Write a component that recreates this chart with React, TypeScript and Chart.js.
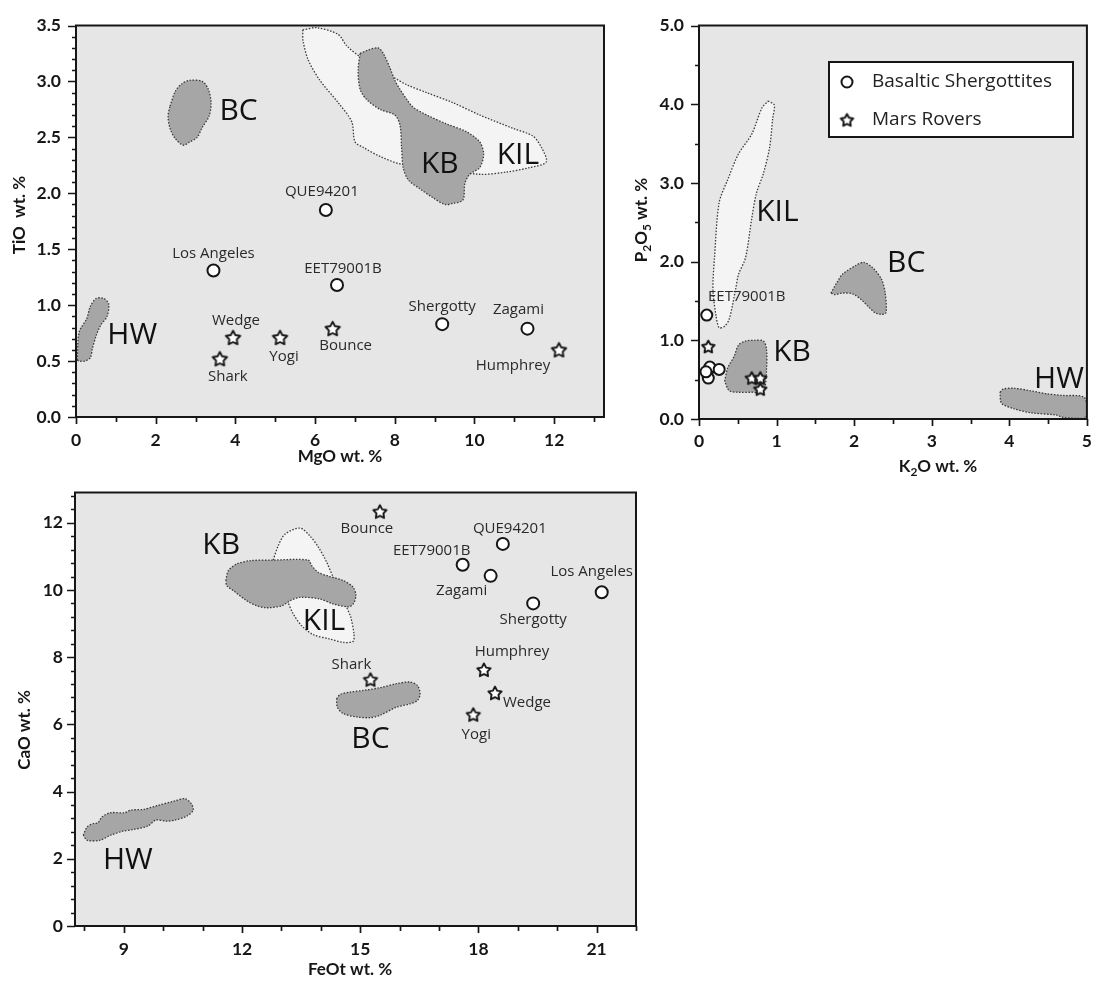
import React, { useEffect, useRef } from "react";
import { Chart, registerables } from "chart.js";

Chart.register(...registerables);

type Pt = [number, number];

/* ================= Panel A : TiO2 vs MgO ================= */
const A_SHERG_NAMES = ["Los Angeles", "QUE94201", "EET79001B", "Shergotty", "Zagami"];
const A_SHERG_MGO = [3.45, 6.27, 6.55, 9.19, 11.33];
const A_SHERG_TIO2 = [1.31, 1.85, 1.18, 0.83, 0.79];
const A_ROVER_NAMES = ["Wedge", "Shark", "Yogi", "Bounce", "Humphrey"];
const A_ROVER_MGO = [3.94, 3.61, 5.12, 6.44, 12.12];
const A_ROVER_TIO2 = [0.71, 0.52, 0.71, 0.79, 0.6];
const A_X_TICKS = [0, 2, 4, 6, 8, 10, 12];
const A_Y_TICKS = [0, 0.5, 1, 1.5, 2, 2.5, 3, 3.5];
const A_KIL: Pt[] = [[5.69,3.46],[6.04,3.48],[6.58,3.42],[6.79,3.32],[7.13,3.22],[8.0,3.03],[8.3,2.97],[8.8,2.9],[9.46,2.81],[10.13,2.7],[10.97,2.58],[11.47,2.51],[11.68,2.41],[11.8,2.28],[11.39,2.23],[10.8,2.19],[10.13,2.17],[8.17,2.26],[7.63,2.33],[7.21,2.41],[7.0,2.46],[6.92,2.64],[6.58,2.81],[6.12,3.01],[5.83,3.19],[5.7,3.36]];
const A_KB: Pt[] = [[7.13,3.25],[7.33,3.28],[7.58,3.3],[7.71,3.25],[7.88,3.12],[8.0,3.01],[8.13,2.93],[8.3,2.84],[8.46,2.77],[8.8,2.7],[9.3,2.62],[9.8,2.55],[10.13,2.46],[10.23,2.35],[10.13,2.23],[9.88,2.17],[9.76,2.09],[9.71,1.94],[9.46,1.91],[9.26,1.9],[8.96,1.96],[8.63,2.04],[8.34,2.12],[8.21,2.23],[8.17,2.41],[8.13,2.61],[8.0,2.7],[7.63,2.75],[7.29,2.84],[7.13,2.93],[7.08,3.1]];
const A_BC: Pt[] = [[2.36,2.78],[2.49,2.91],[2.66,2.98],[2.86,3.01],[3.17,3.0],[3.32,2.93],[3.39,2.81],[3.34,2.69],[3.17,2.59],[3.04,2.5],[2.86,2.46],[2.69,2.43],[2.49,2.49],[2.36,2.58],[2.31,2.69]];
const A_HW: Pt[] = [[0.03,0.51],[0.08,0.76],[0.27,0.88],[0.36,0.99],[0.51,1.06],[0.7,1.06],[0.82,1.01],[0.78,0.9],[0.62,0.82],[0.51,0.73],[0.41,0.61],[0.36,0.53],[0.22,0.5],[0.08,0.5]];
const A_REGION_NAMES = ["BC", "KB", "KIL", "HW"];
const A_REGION_LABEL_X = [4.08, 9.13, 11.09, 1.41];
const A_REGION_LABEL_Y = [2.73, 2.26, 2.34, 0.725];

/* ================= Panel B : P2O5 vs K2O ================= */
const B_SHERG_NAMES = ["EET79001B", "", "", "", ""];
const B_SHERG_K2O = [0.1, 0.14, 0.26, 0.12, 0.09];
const B_SHERG_P2O5 = [1.32, 0.66, 0.63, 0.52, 0.6];
const B_ROVER_K2O = [0.12, 0.12, 0.68, 0.79, 0.79];
const B_ROVER_P2O5 = [0.92, 0.59, 0.52, 0.52, 0.38];
const B_X_TICKS = [0, 1, 2, 3, 4, 5];
const B_Y_TICKS = [0, 1, 2, 3, 4, 5];
const B_KIL: Pt[] = [[0.89,4.04],[0.97,3.99],[0.95,3.82],[0.91,3.45],[0.83,3.12],[0.74,2.87],[0.68,2.55],[0.6,2.05],[0.51,1.84],[0.47,1.64],[0.39,1.27],[0.33,1.18],[0.26,1.16],[0.22,1.31],[0.18,1.64],[0.2,2.05],[0.26,2.75],[0.37,3.04],[0.51,3.37],[0.68,3.62],[0.81,3.95]];
const B_BC: Pt[] = [[1.7,1.6],[1.77,1.72],[1.85,1.84],[2.02,1.95],[2.12,1.99],[2.23,1.93],[2.35,1.78],[2.4,1.6],[2.41,1.35],[2.35,1.33],[2.27,1.35],[2.18,1.43],[2.1,1.51],[1.98,1.59],[1.85,1.6],[1.75,1.58]];
const B_KB: Pt[] = [[0.33,0.48],[0.37,0.65],[0.45,0.79],[0.51,0.94],[0.6,0.99],[0.72,1.0],[0.83,0.99],[0.87,0.89],[0.87,0.61],[0.85,0.4],[0.81,0.34],[0.68,0.34],[0.51,0.34],[0.39,0.36]];
const B_HW: Pt[] = [[3.88,0.34],[3.92,0.38],[4.06,0.39],[4.27,0.36],[4.48,0.32],[4.69,0.3],[4.96,0.28],[5.0,0.15],[4.98,0.01],[4.69,0.02],[4.61,0.05],[4.27,0.08],[4.06,0.13],[3.9,0.2]];
const B_REGION_NAMES = ["KIL", "BC", "KB", "HW"];
const B_REGION_LABEL_X = [1.01, 2.67, 1.2, 4.64];
const B_REGION_LABEL_Y = [2.63, 1.98, 0.85, 0.5];
const LEGEND_LABELS = ["Basaltic Shergottites", "Mars Rovers"];

/* ================= Panel C : CaO vs FeOt ================= */
const C_SHERG_NAMES = ["QUE94201", "EET79001B", "Zagami", "Los Angeles", "Shergotty"];
const C_SHERG_FEO = [18.62, 17.6, 18.31, 21.13, 19.39];
const C_SHERG_CAO = [11.37, 10.75, 10.42, 9.93, 9.6];
const C_ROVER_NAMES = ["Bounce", "Humphrey", "Wedge", "Yogi", "Shark"];
const C_ROVER_FEO = [15.5, 18.14, 18.42, 17.87, 15.26];
const C_ROVER_CAO = [12.33, 7.62, 6.93, 6.29, 7.33];
const C_X_TICKS = [9, 12, 15, 18, 21];
const C_Y_TICKS = [0, 2, 4, 6, 8, 10, 12];
const C_KIL: Pt[] = [[12.79,10.89],[12.92,11.32],[13.09,11.66],[13.47,11.84],[13.72,11.61],[13.94,11.27],[14.15,10.82],[14.32,10.37],[14.57,9.88],[14.66,9.48],[14.76,9.19],[14.84,8.69],[14.82,8.47],[14.57,8.44],[14.23,8.54],[13.81,8.67],[13.51,8.94],[13.3,9.29],[13.17,9.63],[13.05,10.08],[12.88,10.57]];
const C_KB: Pt[] = [[11.59,10.28],[11.65,10.57],[11.86,10.77],[12.2,10.87],[12.79,10.89],[13.68,10.89],[13.77,10.72],[13.94,10.52],[14.23,10.4],[14.57,10.28],[14.82,10.08],[14.89,9.83],[14.82,9.58],[14.7,9.5],[14.32,9.58],[13.98,9.73],[13.47,9.78],[13.22,9.68],[13.01,9.53],[12.63,9.47],[12.37,9.53],[12.12,9.68],[11.78,9.98],[11.61,10.13]];
const C_BC: Pt[] = [[14.4,6.76],[14.49,6.89],[14.74,6.96],[15.08,7.01],[15.5,7.09],[15.92,7.21],[16.26,7.26],[16.45,7.16],[16.52,6.91],[16.45,6.71],[16.26,6.61],[15.92,6.51],[15.5,6.27],[15.25,6.2],[14.91,6.22],[14.57,6.32],[14.42,6.51]];
const C_HW: Pt[] = [[7.97,2.7],[8.07,2.95],[8.23,3.05],[8.34,3.07],[8.45,3.25],[8.66,3.37],[9.02,3.37],[9.18,3.45],[9.5,3.47],[9.87,3.59],[10.29,3.72],[10.55,3.79],[10.71,3.64],[10.76,3.45],[10.6,3.27],[10.29,3.15],[10.08,3.12],[9.81,3.15],[9.6,2.97],[9.23,2.87],[8.97,2.82],[8.66,2.7],[8.39,2.55],[8.07,2.55]];
const C_REGION_NAMES = ["KB", "KIL", "BC", "HW"];
const C_REGION_LABEL_X = [11.47, 14.08, 15.26, 9.1];
const C_REGION_LABEL_Y = [11.32, 9.07, 5.55, 1.96];

/* ================= styles / layout (not data) ================= */
const PLOT_BG = "#e6e6e6";
const DARK_FILL = "#a6a6a6";
const LIGHT_FILL = "#f4f4f4";
const INK = "#161616";
const TICK_FONT = { family: "Lato", weight: "bold" as const, size: 17.5 };
const TITLE_FONT = "bold 17px Lato";
const TITLE_SUB_FONT = "bold 12px Lato";
const POINT_LABEL_FONT = "15px 'Open Sans'";
const REGION_FONT = "30px 'Open Sans'";

type TitlePart = { t: string; sub?: boolean };

interface PanelDef {
  left: number; top: number; width: number; height: number;
  area: { left: number; top: number; right: number; bottom: number };
  xMin: number; xMax: number; yMin: number; yMax: number;
  xTicks: number[]; yTicks: number[]; xMinor: number; yMinor: number;
  xDec: number; yDec: number; xPad: number; yPad: number;
  xTitle: TitlePart[]; yTitle: TitlePart[];
  xTitlePos: [number, number]; yTitlePos: [number, number];
  sherg: { x: number[]; y: number[]; names: string[]; dx: number[]; dy: number[] };
  rovers: { x: number[]; y: number[]; names: string[]; dx: number[]; dy: number[] };
  regions: { pts: Pt[]; fill: string; order: number }[];
  regionLabels: { names: string[]; x: number[]; y: number[] };
  circleR: number; starR: number;
  legend?: { box: [number, number, number, number]; rowY: [number, number]; symX: number; textX: number };
}

function makeStar(R: number): HTMLCanvasElement {
  const size = Math.ceil(R * 2 + 4);
  const c = document.createElement("canvas");
  c.width = size;
  c.height = size;
  const g = c.getContext("2d")!;
  const cx = size / 2, cy = size / 2 + R * 0.08;
  g.beginPath();
  for (let i = 0; i < 10; i++) {
    const r = i % 2 === 0 ? R : R * 0.52;
    const a = -Math.PI / 2 + (i * Math.PI) / 5;
    const x = cx + r * Math.cos(a), y = cy + r * Math.sin(a);
    if (i === 0) g.moveTo(x, y); else g.lineTo(x, y);
  }
  g.closePath();
  g.fillStyle = "#fff";
  g.fill();
  g.lineJoin = "round";
  g.lineWidth = 1.9;
  g.strokeStyle = INK;
  g.stroke();
  return c;
}

function drawRich(ctx: CanvasRenderingContext2D, parts: TitlePart[], x: number, y: number, rotate: boolean) {
  ctx.save();
  ctx.translate(x, y);
  if (rotate) ctx.rotate(-Math.PI / 2);
  ctx.fillStyle = INK;
  ctx.textBaseline = "middle";
  ctx.textAlign = "left";
  let total = 0;
  for (const p of parts) {
    ctx.font = p.sub ? TITLE_SUB_FONT : TITLE_FONT;
    total += ctx.measureText(p.t).width;
  }
  let cx = -total / 2;
  for (const p of parts) {
    ctx.font = p.sub ? TITLE_SUB_FONT : TITLE_FONT;
    ctx.fillText(p.t, cx, p.sub ? 5 : 0);
    cx += ctx.measureText(p.t).width;
  }
  ctx.restore();
}

function closed(pts: Pt[]) {
  const d = pts.map(([x, y]) => ({ x, y }));
  d.push({ x: pts[0][0], y: pts[0][1] });
  return d;
}

function buildConfig(p: PanelDef): any {
  const star = makeStar(p.starR);
  const decor = {
    id: "decor",
    beforeDraw(chart: any) {
      const { ctx, chartArea: a } = chart;
      ctx.save();
      ctx.fillStyle = PLOT_BG;
      ctx.fillRect(a.left, a.top, a.right - a.left, a.bottom - a.top);
      ctx.restore();
    },
    afterDatasetsDraw(chart: any) {
      const { ctx } = chart;
      const xs = chart.scales.x, ys = chart.scales.y;
      ctx.save();
      ctx.font = REGION_FONT;
      ctx.fillStyle = "#111";
      ctx.textAlign = "center";
      ctx.textBaseline = "middle";
      p.regionLabels.names.forEach((n, i) => {
        ctx.fillText(n, xs.getPixelForValue(p.regionLabels.x[i]), ys.getPixelForValue(p.regionLabels.y[i]));
      });
      ctx.font = POINT_LABEL_FONT;
      ctx.fillStyle = "#2a2a2a";
      for (const grp of [p.sherg, p.rovers]) {
        grp.names.forEach((n, i) => {
          if (!n) return;
          const px = xs.getPixelForValue(grp.x[i]) + grp.dx[i];
          const py = ys.getPixelForValue(grp.y[i]) + grp.dy[i];
          ctx.fillText(n, px, py);
        });
      }
      ctx.restore();
    },
    afterDraw(chart: any) {
      const { ctx, chartArea: a } = chart;
      const xs = chart.scales.x, ys = chart.scales.y;
      ctx.save();
      ctx.strokeStyle = INK;
      ctx.lineWidth = 2;
      ctx.strokeRect(a.left, a.top, a.right - a.left, a.bottom - a.top);
      ctx.lineWidth = 1.7;
      const isMajor = (v: number, arr: number[]) => arr.some((t) => Math.abs(t - v) < 1e-6);
      ctx.beginPath();
      for (let i = Math.ceil(p.xMin / p.xMinor - 1e-9); i * p.xMinor <= p.xMax + 1e-9; i++) {
        const v = i * p.xMinor;
        const px = Math.round(xs.getPixelForValue(v)) + 0.5;
        const len = isMajor(v, p.xTicks) ? 7 : 5;
        ctx.moveTo(px, a.bottom);
        ctx.lineTo(px, a.bottom + len);
      }
      for (let i = Math.ceil(p.yMin / p.yMinor - 1e-9); i * p.yMinor <= p.yMax + 1e-9; i++) {
        const v = i * p.yMinor;
        const py = Math.round(ys.getPixelForValue(v)) + 0.5;
        const len = isMajor(v, p.yTicks) ? 8 : 4;
        ctx.moveTo(a.left, py);
        ctx.lineTo(a.left - len, py);
      }
      ctx.stroke();
      ctx.restore();
      drawRich(ctx, p.xTitle, p.xTitlePos[0], p.xTitlePos[1], false);
      drawRich(ctx, p.yTitle, p.yTitlePos[0], p.yTitlePos[1], true);
      if (p.legend) {
        const L = p.legend;
        ctx.save();
        ctx.fillStyle = "#ffffff";
        ctx.fillRect(L.box[0], L.box[1], L.box[2] - L.box[0], L.box[3] - L.box[1]);
        ctx.strokeStyle = INK;
        ctx.lineWidth = 2;
        ctx.strokeRect(L.box[0], L.box[1], L.box[2] - L.box[0], L.box[3] - L.box[1]);
        ctx.beginPath();
        ctx.arc(L.symX, L.rowY[0], p.circleR, 0, Math.PI * 2);
        ctx.fillStyle = "#fff";
        ctx.fill();
        ctx.lineWidth = 2;
        ctx.stroke();
        ctx.drawImage(star, L.symX - star.width / 2, L.rowY[1] - star.height / 2);
        ctx.font = "19px 'Open Sans'";
        ctx.fillStyle = "#222";
        ctx.textAlign = "left";
        ctx.textBaseline = "middle";
        ctx.fillText(LEGEND_LABELS[0], L.textX, L.rowY[0]);
        ctx.fillText(LEGEND_LABELS[1], L.textX, L.rowY[1]);
        ctx.restore();
      }
    },
  };

  const datasets: any[] = [
    {
      label: LEGEND_LABELS[0],
      data: p.sherg.x.map((x, i) => ({ x, y: p.sherg.y[i] })),
      pointStyle: "circle",
      pointRadius: p.circleR,
      backgroundColor: "#ffffff",
      borderColor: INK,
      borderWidth: 2,
      order: 0,
    },
    {
      label: LEGEND_LABELS[1],
      data: p.rovers.x.map((x, i) => ({ x, y: p.rovers.y[i] })),
      pointStyle: star,
      pointRadius: p.starR,
      order: 0,
    },
    ...p.regions.map((r) => ({
      type: "line",
      data: closed(r.pts),
      showLine: true,
      fill: "shape",
      backgroundColor: r.fill,
      borderColor: "#3a3a3a",
      borderWidth: 1.3,
      borderDash: [1.5, 1.6],
      pointRadius: 0,
      tension: 0.3,
      order: r.order,
    })),
  ];

  return {
    type: "scatter",
    data: { datasets },
    options: {
      responsive: false,
      animation: false,
      events: [],
      layout: { padding: { left: 0, top: p.area.top, right: p.width - p.area.right, bottom: 0 } },
      plugins: { legend: { display: false }, tooltip: { enabled: false } },
      scales: {
        x: {
          type: "linear",
          min: p.xMin,
          max: p.xMax,
          grid: { display: false, drawTicks: false },
          border: { display: false },
          afterFit: (s: any) => { s.height = p.height - p.area.bottom; },
          afterBuildTicks: (s: any) => { s.ticks = p.xTicks.map((v) => ({ value: v })); },
          ticks: {
            padding: p.xPad,
            autoSkip: false,
            maxRotation: 0,
            color: INK,
            font: TICK_FONT,
            callback: (v: any) => Number(v).toFixed(p.xDec),
          },
        },
        y: {
          type: "linear",
          min: p.yMin,
          max: p.yMax,
          grid: { display: false, drawTicks: false },
          border: { display: false },
          afterFit: (s: any) => { s.width = p.area.left; },
          afterBuildTicks: (s: any) => { s.ticks = p.yTicks.map((v) => ({ value: v })); },
          ticks: {
            padding: p.yPad,
            autoSkip: false,
            color: INK,
            font: TICK_FONT,
            callback: (v: any) => Number(v).toFixed(p.yDec),
          },
        },
      },
    },
    plugins: [decor],
  };
}

const PANEL_A: PanelDef = {
  left: 0, top: 0, width: 620, height: 470,
  area: { left: 76, top: 14, right: 604, bottom: 417 },
  xMin: 0, xMax: 13.25, yMin: 0, yMax: 3.5,
  xTicks: A_X_TICKS, yTicks: A_Y_TICKS, xMinor: 1, yMinor: 0.1,
  xDec: 0, yDec: 1, xPad: 13, yPad: 15,
  xTitle: [{ t: "MgO wt. %" }], yTitle: [{ t: "TiO  wt. %" }],
  xTitlePos: [340, 457], yTitlePos: [20, 215],
  sherg: { x: A_SHERG_MGO, y: A_SHERG_TIO2, names: A_SHERG_NAMES, dx: [0, -4, 6, 0, -9], dy: [-17, -18, -16, -17, -19] },
  rovers: { x: A_ROVER_MGO, y: A_ROVER_TIO2, names: A_ROVER_NAMES, dx: [3, 8, 4, 13, -46], dy: [-17, 18, 19, 17, 16] },
  regions: [
    { pts: A_KIL, fill: LIGHT_FILL, order: 3 },
    { pts: A_KB, fill: DARK_FILL, order: 2 },
    { pts: A_BC, fill: DARK_FILL, order: 2 },
    { pts: A_HW, fill: DARK_FILL, order: 2 },
  ],
  regionLabels: { names: A_REGION_NAMES, x: A_REGION_LABEL_X, y: A_REGION_LABEL_Y },
  circleR: 6, starR: 7.5,
};

const PANEL_B: PanelDef = {
  left: 620, top: 0, width: 484, height: 490,
  area: { left: 79, top: 15, right: 478, bottom: 419 },
  xMin: 0, xMax: 5, yMin: 0, yMax: 5,
  xTicks: B_X_TICKS, yTicks: B_Y_TICKS, xMinor: 0.5, yMinor: 0.5,
  xDec: 0, yDec: 1, xPad: 12, yPad: 15,
  xTitle: [{ t: "K" }, { t: "2", sub: true }, { t: "O wt. %" }],
  yTitle: [{ t: "P" }, { t: "2", sub: true }, { t: "O" }, { t: "5", sub: true }, { t: " wt. %" }],
  xTitlePos: [318, 467], yTitlePos: [22, 220],
  sherg: { x: B_SHERG_K2O, y: B_SHERG_P2O5, names: B_SHERG_NAMES, dx: [40, 0, 0, 0, 0], dy: [-18, 0, 0, 0, 0] },
  rovers: { x: B_ROVER_K2O, y: B_ROVER_P2O5, names: ["", "", "", "", ""], dx: [0, 0, 0, 0, 0], dy: [0, 0, 0, 0, 0] },
  regions: [
    { pts: B_KIL, fill: LIGHT_FILL, order: 3 },
    { pts: B_BC, fill: DARK_FILL, order: 2 },
    { pts: B_KB, fill: DARK_FILL, order: 2 },
    { pts: B_HW, fill: DARK_FILL, order: 2 },
  ],
  regionLabels: { names: B_REGION_NAMES, x: B_REGION_LABEL_X, y: B_REGION_LABEL_Y },
  circleR: 5.5, starR: 6.5,
  legend: { box: [209, 62, 453, 137], rowY: [82, 120], symX: 227, textX: 252 },
};

const PANEL_C: PanelDef = {
  left: 0, top: 470, width: 660, height: 514,
  area: { left: 75, top: 22, right: 636, bottom: 456 },
  xMin: 7.76, xMax: 22.0, yMin: 0, yMax: 12.9,
  xTicks: C_X_TICKS, yTicks: C_Y_TICKS, xMinor: 1, yMinor: 0.4,
  xDec: 0, yDec: 0, xPad: 13, yPad: 12,
  xTitle: [{ t: "FeOt wt. %" }], yTitle: [{ t: "CaO wt. %" }],
  xTitlePos: [350, 500], yTitlePos: [25, 260],
  sherg: { x: C_SHERG_FEO, y: C_SHERG_CAO, names: C_SHERG_NAMES, dx: [7, -31, -29, -10, 0], dy: [-15, -14, 15, -21, 16] },
  rovers: { x: C_ROVER_FEO, y: C_ROVER_CAO, names: C_ROVER_NAMES, dx: [-13, 28, 32, 3, -19], dy: [17, -18, 10, 20, -15] },
  regions: [
    { pts: C_KIL, fill: LIGHT_FILL, order: 3 },
    { pts: C_KB, fill: DARK_FILL, order: 2 },
    { pts: C_BC, fill: DARK_FILL, order: 2 },
    { pts: C_HW, fill: DARK_FILL, order: 2 },
  ],
  regionLabels: { names: C_REGION_NAMES, x: C_REGION_LABEL_X, y: C_REGION_LABEL_Y },
  circleR: 6, starR: 7,
};

function PanelChart({ def }: { def: PanelDef }) {
  const ref = useRef<HTMLCanvasElement>(null);
  useEffect(() => {
    if (!ref.current) return;
    const chart = new Chart(ref.current, buildConfig(def));
    return () => chart.destroy();
  }, [def]);
  return (
    <div style={{ position: "absolute", left: def.left, top: def.top, width: def.width, height: def.height }}>
      <canvas ref={ref} width={def.width} height={def.height} style={{ width: def.width, height: def.height }} />
    </div>
  );
}

export default function App() {
  return (
    <div style={{ position: "absolute", left: 0, top: 0, width: 1104, height: 984, background: "#fff", overflow: "hidden" }}>
      <PanelChart def={PANEL_B} />
      <PanelChart def={PANEL_A} />
      <PanelChart def={PANEL_C} />
    </div>
  );
}
